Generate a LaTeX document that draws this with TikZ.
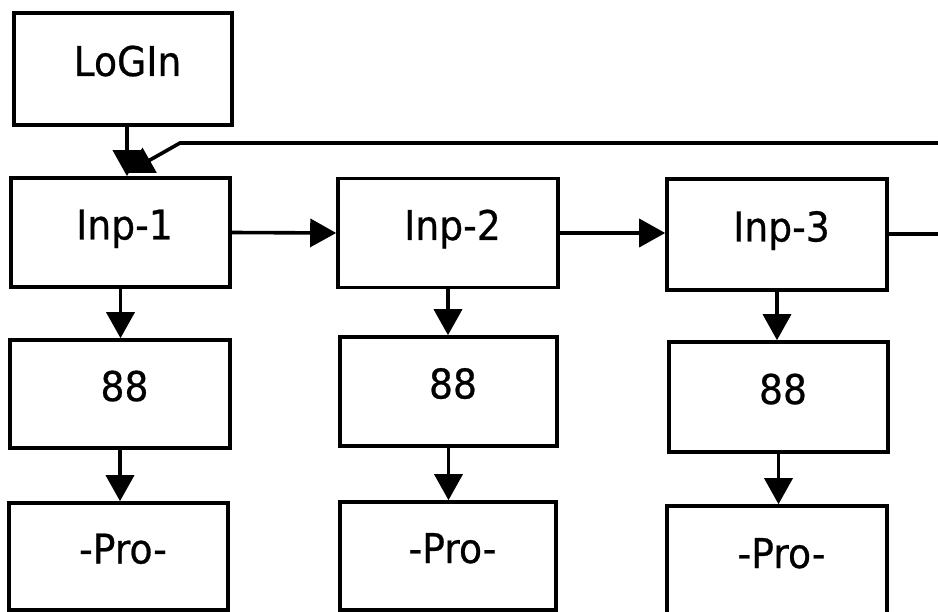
\documentclass[tikz,border=0pt]{standalone}
\usepackage{fontspec}
\setmainfont{DejaVu Sans}[FakeStretch=0.92,FakeBold=0.6]
\usetikzlibrary{arrows.meta,calc}
\begin{document}
\begin{tikzpicture}[x=1pt,y=-1pt,line width=3.6pt,
  box/.style={draw,rectangle,inner sep=0pt,text height=24pt,text depth=10pt,
    font=\fontsize{41}{48}\selectfont},
  arr/.style={-{Triangle[length=26pt,width=28pt]}}]
\useasboundingbox (0,0) rectangle (938,612);
% boxes
\node[box,minimum width=218pt,minimum height=112pt] (login) at (123,69) {\hspace*{9pt}LoGIn};
\node[box,minimum width=219pt,minimum height=109pt] (inp1) at (120.5,232.5) {\hspace*{8pt}Inp-1};
\node[box,minimum width=220pt,minimum height=108pt] (n1) at (120,394) {\hspace*{9pt}88};
\node[box,minimum width=219pt,minimum height=107pt] (p1) at (118.5,556.5) {\hspace*{9pt}-Pro-};
\node[box,minimum width=220pt,minimum height=109pt] (inp2) at (448,233) {\hspace*{9pt}Inp-2};
\node[box,minimum width=217pt,minimum height=109pt] (n2) at (448.5,391.5) {\hspace*{9pt}88};
\node[box,minimum width=216pt,minimum height=108pt] (p2) at (448,556) {\hspace*{9pt}-Pro-};
\node[box,minimum width=220pt,minimum height=111pt] (inp3) at (777,234.5) {\hspace*{9pt}Inp-3};
\node[box,minimum width=219pt,minimum height=110pt] (n3) at (778.5,397) {\hspace*{9pt}88};
\node[box,minimum width=220pt,minimum height=110pt] (p3) at (777,561) {\hspace*{9pt}-Pro-};
% free ends of the loop
\coordinate (outR) at (945,234);
\coordinate (inR) at (945,143);
\coordinate (bend) at (180,143);
\coordinate (loopTip) at (127,173);
\coordinate (lgx) at ($(login.south)+(4,0)$);
% connectors
\draw[arr] (lgx) -- (lgx |- inp1.north);
\draw[arr] (inR) -- (bend) -- (loopTip);
\draw[arr] (inp1.east) -- (inp2.west);
\draw[arr] (inp2.east) -- (inp2.east -| inp3.west);
\draw[line width=4pt] ([yshift=0.5pt]inp3.east) -- (outR);
\draw[arr] (inp1.south) -- (inp1.south |- n1.north);
\draw[arr] (n1.south) -- (n1.south |- p1.north);
\draw[arr] (inp2.south) -- (inp2.south |- n2.north);
\draw[arr] (n2.south) -- (n2.south |- p2.north);
\draw[arr] (inp3.south) -- (inp3.south |- n3.north);
\draw[arr] (n3.south) -- (n3.south |- p3.north);
\end{tikzpicture}
\end{document}
